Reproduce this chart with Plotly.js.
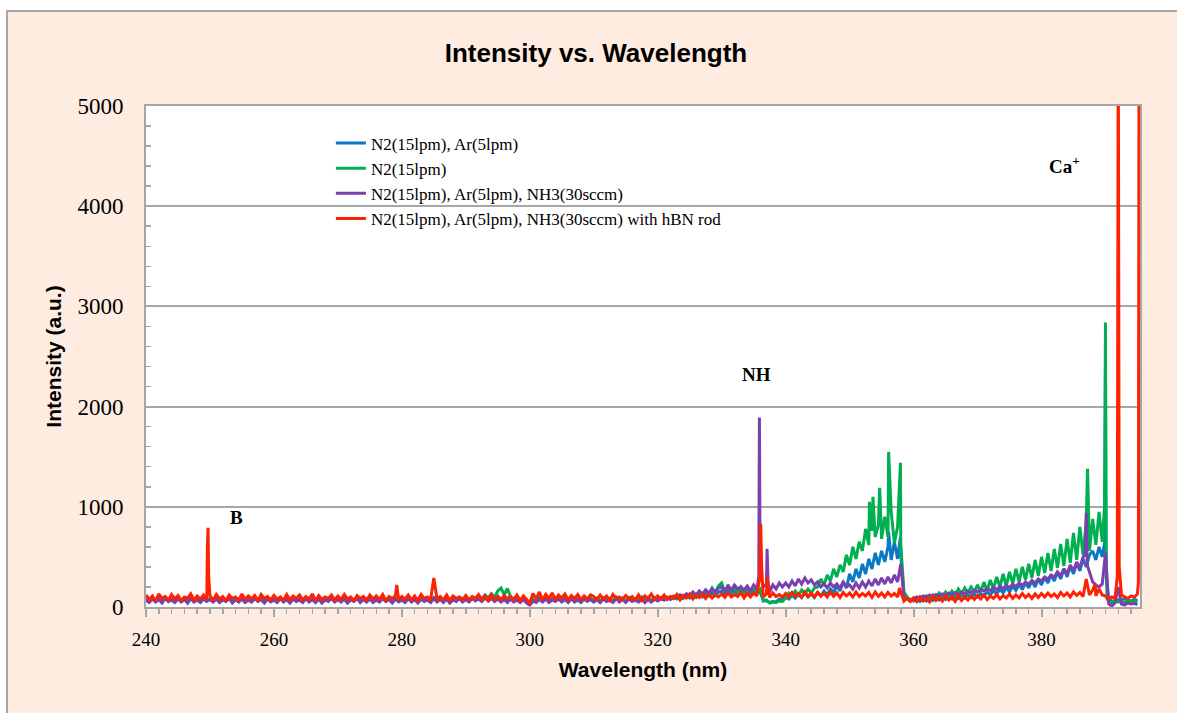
<!DOCTYPE html>
<html>
<head>
<meta charset="utf-8">
<script src="https://cdn.plot.ly/plotly-3.0.1.min.js"></script>
<style>
  html, body { margin:0; padding:0; background:#ffffff; overflow:hidden; }
  #wrap { position:absolute; left:6px; top:10px; border-left:2px solid #a6a6a6; border-top:2px solid #a6a6a6; }
  #chart { width:1169px; height:701px; }
</style>
</head>
<body>
<div id="wrap"><div id="chart"></div></div>
<script>
// ---------------- DATA ----------------
const seriesNames = [
  "N2(15lpm), Ar(5lpm)",
  "N2(15lpm)",
  "N2(15lpm), Ar(5lpm), NH3(30sccm)",
  "N2(15lpm), Ar(5lpm), NH3(30sccm) with hBN rod"
];

const wavelength = [
240,240.5,241,241.5,242,242.5,243,243.5,244,244.5,245,245.5,246,246.5,247,247.5,248,248.5,249,249.5,
250,250.5,251,251.5,252,252.5,253,253.5,254,254.5,255,255.5,256,256.5,257,257.5,258,258.5,259,259.5,
260,260.5,261,261.5,262,262.5,263,263.5,264,264.5,265,265.5,266,266.5,267,267.5,268,268.5,269,269.5,
270,270.5,271,271.5,272,272.5,273,273.5,274,274.5,275,275.5,276,276.5,277,277.5,278,278.5,279,279.5,
280,280.5,281,281.5,282,282.5,283,283.5,284,284.5,285,285.5,286,286.5,287,287.5,288,288.5,289,289.5,
290,290.5,291,291.5,292,292.5,293,293.5,294,294.5,295,295.5,296,296.5,297,297.5,298,298.5,299,299.5,
300,300.5,301,301.5,302,302.5,303,303.5,304,304.5,305,305.5,306,306.5,307,307.5,308,308.5,309,309.5,
310,310.5,311,311.5,312,312.5,313,313.5,314,314.5,315,315.5,316,316.5,317,317.5,318,318.5,319,319.5,
320,320.5,321,321.5,322,322.5,323,323.5,324,324.5,325,325.5,326,326.5,327,327.5,328,328.5,329,329.5,
330,330.5,331,331.5,332,332.5,333,333.5,334,334.5,335,335.5,336,336.5,337,337.5,338,338.5,339,339.5,
340,340.5,341,341.5,342,342.5,343,343.5,344,344.5,345,345.5,346,346.5,347,347.5,348,348.5,349,349.5,
350,350.5,351,351.5,352,352.5,353,353.5,354,354.5,355,355.5,356,356.5,357,357.5,358,358.5,359,359.5,
360,360.5,361,361.5,362,362.5,363,363.5,364,364.5,365,365.5,366,366.5,367,367.5,368,368.5,369,369.5,
370,370.5,371,371.5,372,372.5,373,373.5,374,374.5,375,375.5,376,376.5,377,377.5,378,378.5,379,379.5,
380,380.5,381,381.5,382,382.5,383,383.5,384,384.5,385,385.5,386,386.5,387,387.5,388,388.5,389,389.5,
390,390.5,391,391.5,392,392.5,393,393.5,394,394.5,395
];

// N2(15lpm), Ar(5lpm)  (blue)
const blueIntensity = [
80,55,90,60,85,50,95,65,80,55,90,60,85,50,95,60,80,55,90,65,
85,60,90,55,80,65,95,50,85,60,90,55,80,60,95,65,85,50,90,60,
80,55,95,60,85,50,90,65,80,55,95,60,85,55,90,50,80,65,95,60,
85,60,90,50,80,65,95,55,85,60,90,55,80,60,95,65,85,50,90,60,
80,55,95,60,85,50,90,65,80,55,95,60,85,55,90,50,80,65,95,60,
85,60,95,70,100,80,120,90,130,85,110,75,95,60,85,55,90,60,80,55,
40,70,55,85,60,90,55,80,65,90,60,85,55,95,60,80,55,90,65,85,
60,85,55,90,65,80,55,95,60,85,55,90,65,80,60,95,55,85,60,90,
65,90,70,95,75,100,80,110,85,115,90,120,95,125,100,135,110,140,115,150,
160,120,180,130,170,125,190,135,175,130,185,140,150,70,60,45,55,50,80,70,
100,80,120,90,130,95,140,100,130,95,145,110,160,120,180,140,210,160,250,190,
330,250,380,290,430,330,480,380,540,420,560,450,600,470,650,480,520,120,90,70,
60,80,55,85,60,90,65,95,70,100,75,110,80,115,85,120,90,125,95,130,
100,135,110,150,120,165,130,180,140,195,150,210,165,225,175,240,190,260,200,280,
220,300,240,320,260,350,280,380,300,410,330,440,360,480,400,520,560,470,600,500,
2340,80,60,50,70,60,90,70,60,75,65
];
const bluePeakWavelength = [356.1, 357.95, 389.9, 390.1];
const bluePeakIntensity  = [750, 700, 650, 300];

// N2(15lpm)  (green)
const greenIntensity = [
75,50,85,60,80,45,90,55,75,50,85,60,80,45,90,55,75,50,85,60,
80,55,85,50,75,60,90,45,80,55,85,50,75,55,90,60,80,45,85,55,
75,50,90,55,80,45,85,60,75,50,90,55,80,50,85,45,75,60,90,55,
80,55,85,45,75,60,90,50,80,55,85,50,75,55,90,60,80,45,85,55,
75,50,90,55,80,45,85,60,75,50,90,55,80,50,85,45,75,60,90,55,
80,60,90,70,100,75,110,85,130,95,160,190,120,185,100,80,85,60,80,55,
45,75,60,90,65,95,60,85,70,95,65,90,60,100,65,85,60,95,70,90,
65,90,60,95,70,85,60,100,65,90,60,95,70,85,65,100,60,90,65,95,
70,95,75,100,80,110,85,120,90,130,100,140,110,150,120,170,130,190,140,210,
240,150,220,160,210,150,200,140,190,150,200,160,180,60,70,40,50,45,60,55,
90,140,110,160,120,170,130,180,140,190,200,280,220,320,260,380,300,420,350,520,
420,600,480,650,560,780,620,760,700,820,680,900,700,950,640,800,620,150,100,70,
90,60,100,70,110,80,120,90,140,100,150,110,160,120,180,130,190,140,200,150,
220,150,250,160,270,180,300,200,330,210,350,230,380,250,400,270,430,290,470,310,
500,340,540,360,580,390,630,410,680,440,740,470,800,520,860,560,880,620,950,650,
2840,60,40,70,50,60,45,70,55,60,50
];
const greenPeakWavelength = [353.1, 353.65, 354.7, 356.1, 357.95, 387.2, 389.85, 390.1, 390.25];
const greenPeakIntensity  = [1050, 1100, 1190, 1550, 1440, 1380, 1000, 600, 80];

// N2(15lpm), Ar(5lpm), NH3(30sccm)  (purple)
const purpleIntensity = [
70,45,80,50,75,40,85,55,70,45,80,50,75,40,85,50,70,45,80,55,
75,50,80,45,70,55,85,40,75,50,80,45,70,50,85,55,75,40,80,50,
70,45,85,50,75,40,80,55,70,45,85,50,75,45,80,40,70,55,85,50,
75,50,80,40,70,55,85,45,75,50,80,45,70,50,85,55,75,40,80,50,
70,45,85,50,75,40,80,55,70,45,85,50,75,45,80,40,70,55,85,50,
75,50,85,60,80,55,90,60,85,55,80,50,75,45,80,50,70,45,75,40,
20,60,45,75,50,80,45,70,55,80,50,75,45,85,50,70,45,80,55,75,
50,75,45,80,55,70,45,85,50,75,45,80,55,70,50,85,45,75,50,80,
60,85,70,95,80,105,90,120,100,130,110,150,120,160,130,170,140,180,150,190,
200,160,210,170,220,180,200,170,210,160,220,180,500,200,230,150,220,180,240,200,
240,200,260,210,280,230,290,240,270,220,250,200,230,190,240,200,230,190,250,200,
220,180,240,190,250,200,260,210,280,220,290,230,300,240,320,250,430,90,80,60,
80,100,90,110,95,120,100,125,110,130,115,140,120,145,125,150,130,160,140,165,
150,175,160,185,165,195,175,205,185,215,195,225,205,240,215,250,225,265,240,280,
260,300,280,320,300,350,310,380,330,420,360,450,390,500,940,350,250,220,200,230,
540,30,10,40,200,30,20,40,30,35,25
];
const purplePeakWavelength = [335.8, 335.9, 336.15, 337.1, 337.25, 386.85, 387.15];
const purplePeakIntensity  = [300, 1890, 300, 580, 250, 520, 420];

// N2(15lpm), Ar(5lpm), NH3(30sccm) with hBN rod  (red)
const redIntensity = [
120,75,110,60,130,85,105,70,125,80,115,65,100,85,130,70,110,80,120,75,
110,70,125,80,105,65,120,85,100,70,130,75,110,80,115,65,125,85,105,70,
115,80,100,65,125,75,110,85,120,70,105,80,130,65,115,75,100,85,120,70,
110,75,125,80,100,65,115,85,105,70,120,80,110,75,125,65,105,85,115,70,
105,80,120,70,110,65,125,85,100,75,290,80,105,70,120,65,110,85,100,75,
115,70,105,85,125,75,110,65,120,80,100,70,115,85,105,75,120,65,110,80,
40,135,80,150,70,125,85,140,75,120,90,130,70,115,85,125,75,110,80,120,
105,70,120,80,110,65,125,85,100,75,115,80,105,70,120,65,110,85,130,75,
110,80,120,75,105,85,125,70,115,90,130,80,120,95,125,85,130,90,120,100,
130,95,140,100,125,105,145,90,135,100,140,110,400,100,130,95,140,105,125,100,
135,100,145,110,130,95,150,105,140,100,145,110,135,100,150,105,140,95,145,110,
140,100,150,105,135,110,145,95,150,105,140,100,145,110,135,100,150,60,90,55,
90,55,100,60,85,50,110,65,95,60,105,70,100,55,115,65,100,70,110,75,
115,80,120,75,110,85,125,80,115,90,130,85,120,90,135,95,125,85,130,95,
135,100,140,105,130,95,145,110,140,100,150,115,145,105,280,120,170,110,180,120,
110,80,100,90,6000,120,100,85,110,95,130
];
const redPeakWavelength = [249.6, 249.7, 249.8, 279.2, 335.95, 336.1, 336.25, 337.1, 357.8, 388.4, 391.85, 392.15, 395.15, 395.25];
const redPeakIntensity  = [600, 790, 300, 220, 300, 830, 400, 300, 190, 230, 300, 400, 250, 6000];

const seriesColors = ["#0b78c6", "#00b050", "#7b3fb0", "#ff2200"];

const xTickValues = [240, 260, 280, 300, 320, 340, 360, 380];
const yTickValues = [0, 1000, 2000, 3000, 4000, 5000];

const labelTexts = ["<b>B</b>", "<b>NH</b>", "<b>Ca<sup>+</sup></b>"];
const labelWavelength = [254.2, 335.5, 383.6];
const labelIntensity  = [890, 2320, 4410];

// ---------------- BUILD ----------------
function build(ys, px, py) {
  const pts = wavelength.map((x, i) => [x, ys[i]]);
  px.forEach((x, i) => pts.push([x, py[i]]));
  pts.sort((a, b) => a[0] - b[0]);
  return { x: pts.map(p => p[0]), y: pts.map(p => p[1]) };
}

const sets = [
  build(blueIntensity, bluePeakWavelength, bluePeakIntensity),
  build(greenIntensity, greenPeakWavelength, greenPeakIntensity),
  build(purpleIntensity, purplePeakWavelength, purplePeakIntensity),
  build(redIntensity, redPeakWavelength, redPeakIntensity)
];

const traces = sets.map((s, i) => ({
  type: "scatter",
  mode: "lines",
  x: s.x,
  y: s.y,
  name: seriesNames[i],
  line: { color: seriesColors[i], width: 3 },
  hoverinfo: "skip"
}));

const serif = "Liberation Serif, Times New Roman, serif";
const sans = "Liberation Sans, Arial, sans-serif";

const layout = {
  width: 1169,
  height: 701,
  paper_bgcolor: "#fdecdf",
  plot_bgcolor: "#ffffff",
  margin: { l: 138, r: 37, t: 94, b: 106 },
  title: {
    text: "<b>Intensity vs. Wavelength</b>",
    font: { family: sans, size: 26, color: "#000" },
    x: 0.503, xref: "container", xanchor: "center",
    y: 0.942, yref: "container", yanchor: "middle"
  },
  showlegend: true,
  legend: {
    x: 0.186, xanchor: "left",
    y: 0.961, yanchor: "top",
    bgcolor: "rgba(0,0,0,0)",
    font: { family: serif, size: 17, color: "#000" },
    tracegroupgap: 0
  },
  xaxis: {
    range: [240, 395.4],
    tickvals: xTickValues,
    ticks: "outside", ticklen: 8, tickwidth: 2, tickcolor: "#a6a6a6",
    minor: { dtick: 2, ticks: "outside", ticklen: 5, tickwidth: 1.5, tickcolor: "#a6a6a6", showgrid: false },
    showgrid: false,
    showline: true, mirror: true, linecolor: "#a6a6a6", linewidth: 2,
    zeroline: false,
    tickfont: { family: serif, size: 19, color: "#000" },
    ticklabelstandoff: 6,
    title: { text: "<b>Wavelength (nm)</b>", font: { family: sans, size: 21, color: "#000" }, standoff: 14 }
  },
  yaxis: {
    range: [0, 5000],
    tickvals: yTickValues,
    ticks: "inside", ticklen: 6, tickwidth: 2, tickcolor: "#a6a6a6",
    minor: { dtick: 200, ticks: "inside", ticklen: 5, tickwidth: 1.5, tickcolor: "#a6a6a6", showgrid: false },
    showgrid: true, gridcolor: "#a6a6a6", gridwidth: 2,
    showline: true, mirror: true, linecolor: "#a6a6a6", linewidth: 2,
    zeroline: false,
    tickfont: { family: serif, size: 23, color: "#000" },
    ticklabelstandoff: 16,
    title: { text: "<b>Intensity (a.u.)</b>", font: { family: sans, size: 21, color: "#000" }, standoff: 10 }
  },
  shapes: [{
    type: "rect", xref: "paper", yref: "paper",
    x0: 0.117, x1: 0.68, y0: 0.74, y1: 0.965,
    fillcolor: "#ffffff", line: { width: 0 }, layer: "between"
  }],
  annotations: labelTexts.map((t, i) => ({
    text: t, x: labelWavelength[i], y: labelIntensity[i], xref: "x", yref: "y",
    showarrow: false, font: { family: serif, size: 19, color: "#000" }
  }))
};

Plotly.newPlot("chart", traces, layout, { staticPlot: true, displayModeBar: false });
</script>
</body>
</html>
